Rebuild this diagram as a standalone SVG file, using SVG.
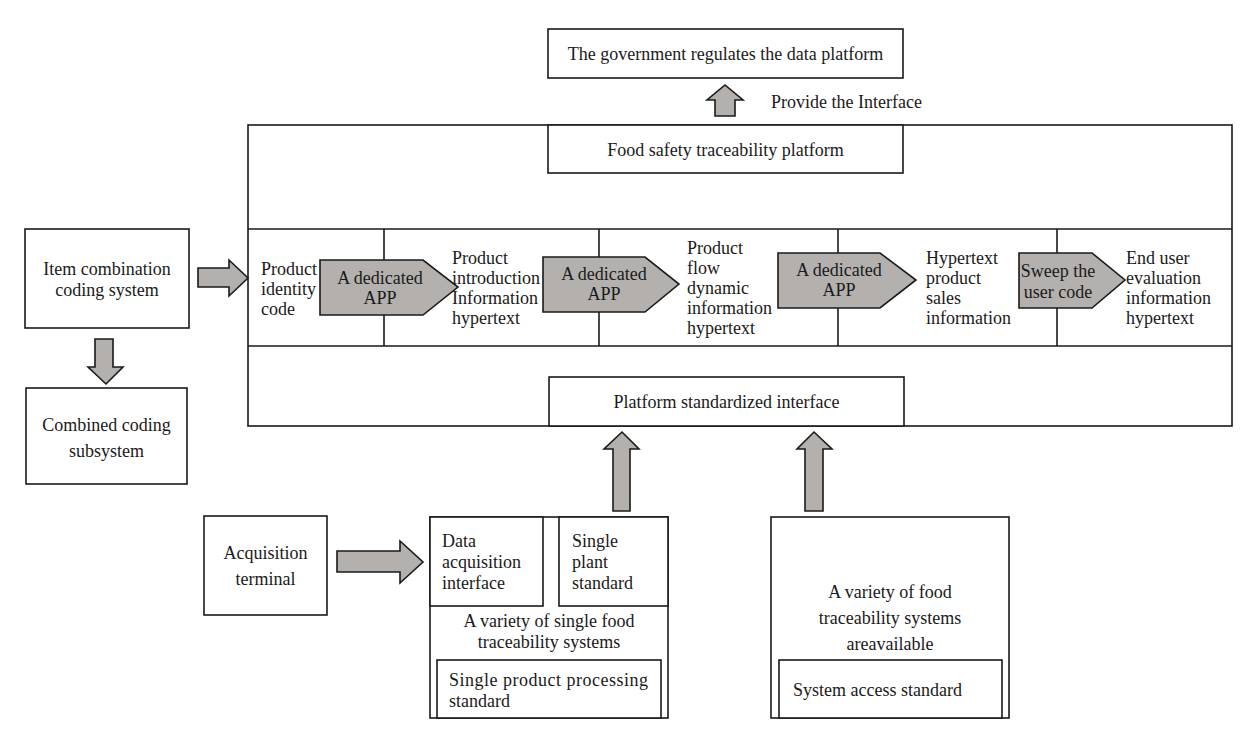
<svg xmlns="http://www.w3.org/2000/svg" width="1259" height="742" viewBox="0 0 1259 742">
<style>
  .box{fill:#fff;stroke:#1a1a1a;stroke-width:1.6}
  .line{stroke:#1a1a1a;stroke-width:1.6;fill:none}
  .arr{fill:#b3b0ae;stroke:#1a1a1a;stroke-width:1.6;stroke-linejoin:miter}
  text{font-family:"Liberation Serif","Times New Roman",serif;font-size:18px;fill:#1a1a1a}
  .c{text-anchor:middle}
</style>
<rect width="1259" height="742" fill="#fff"/>

<g id="government">
  <rect class="box" x="548" y="29" width="355" height="49"/>
  <text class="c" x="725.5" y="60">The government regulates the data platform</text>
</g>

<g id="platform">
  <rect class="box" x="248" y="125" width="984" height="301"/>
  <line class="line" x1="248" y1="229" x2="1232" y2="229"/>
  <line class="line" x1="248" y1="346" x2="1232" y2="346"/>
  <line class="line" x1="384" y1="229" x2="384" y2="346"/>
  <line class="line" x1="599" y1="229" x2="599" y2="346"/>
  <line class="line" x1="838" y1="229" x2="838" y2="346"/>
  <line class="line" x1="1057" y1="229" x2="1057" y2="346"/>
</g>

<g id="food-safety-platform">
  <rect class="box" x="548" y="125" width="355" height="48"/>
  <text class="c" x="725.5" y="156">Food safety traceability platform</text>
</g>

<g id="platform-interface">
  <rect class="box" x="549" y="377" width="355" height="49"/>
  <text class="c" x="726.5" y="408">Platform standardized interface</text>
</g>

<g id="product-identity">
  <text x="261" y="275">Product</text>
  <text x="261" y="295">identity</text>
  <text x="261" y="315">code</text>
</g>
<g id="product-intro">
  <text x="452" y="264">Product</text>
  <text x="452" y="284">introduction</text>
  <text x="452" y="304">Information</text>
  <text x="452" y="324">hypertext</text>
</g>
<g id="product-flow">
  <text x="687" y="254">Product</text>
  <text x="687" y="274">flow</text>
  <text x="687" y="294">dynamic</text>
  <text x="687" y="314">information</text>
  <text x="687" y="334">hypertext</text>
</g>
<g id="sales-info">
  <text x="926" y="264">Hypertext</text>
  <text x="926" y="284">product</text>
  <text x="926" y="304">sales</text>
  <text x="926" y="324">information</text>
</g>
<g id="end-user">
  <text x="1126" y="264">End user</text>
  <text x="1126" y="284">evaluation</text>
  <text x="1126" y="304">information</text>
  <text x="1126" y="324">hypertext</text>
</g>

<g id="app1">
  <path class="arr" d="M320,260 H423 L458,287 L423,315 H320 Z"/>
  <text class="c" x="380" y="284">A dedicated</text>
  <text class="c" x="380" y="304">APP</text>
</g>
<g id="app2">
  <path class="arr" d="M543,257 H645 L679,284 L645,312 H543 Z"/>
  <text class="c" x="604" y="280">A dedicated</text>
  <text class="c" x="604" y="300">APP</text>
</g>
<g id="app3">
  <path class="arr" d="M778,253 H880 L916,280 L880,308 H778 Z"/>
  <text class="c" x="839" y="276">A dedicated</text>
  <text class="c" x="839" y="296">APP</text>
</g>
<g id="sweep">
  <path class="arr" d="M1019,253 H1092 L1125,280 L1092,308 H1019 Z"/>
  <text class="c" x="1058" y="277">Sweep the</text>
  <text class="c" x="1058" y="298">user code</text>
</g>

<g id="item-combination">
  <rect class="box" x="25" y="229" width="164" height="99"/>
  <text class="c" x="107" y="275">Item combination</text>
  <text class="c" x="107" y="296">coding system</text>
</g>

<g id="combined-coding">
  <rect class="box" x="26" y="388" width="161" height="96"/>
  <text class="c" x="106.5" y="431">Combined coding</text>
  <text class="c" x="106.5" y="457">subsystem</text>
</g>

<g id="acquisition-terminal">
  <rect class="box" x="204" y="516" width="123" height="99"/>
  <text class="c" x="265.5" y="559">Acquisition</text>
  <text class="c" x="265.5" y="585">terminal</text>
</g>

<g id="single-food-systems">
  <rect class="box" x="430" y="517" width="238" height="201"/>
  <rect class="box" x="430" y="517" width="113" height="89"/>
  <rect class="box" x="559" y="517" width="109" height="89"/>
  <text x="442" y="547">Data</text>
  <text x="442" y="568">acquisition</text>
  <text x="442" y="589">interface</text>
  <text x="572" y="547">Single</text>
  <text x="572" y="568">plant</text>
  <text x="572" y="589">standard</text>
  <text class="c" x="549" y="627">A variety of single food</text>
  <text class="c" x="549" y="648">traceability systems</text>
  <rect class="box" x="437" y="660" width="224" height="58"/>
  <text x="449" y="686" textLength="199" lengthAdjust="spacing">Single product processing</text>
  <text x="449" y="707">standard</text>
</g>

<g id="food-systems-available">
  <rect class="box" x="771" y="517" width="238" height="201"/>
  <text class="c" x="890" y="598">A variety of food</text>
  <text class="c" x="890" y="624">traceability systems</text>
  <text class="c" x="890" y="650">areavailable</text>
  <rect class="box" x="779" y="660" width="223" height="58"/>
  <text x="793" y="696">System access standard</text>
</g>

<g id="connectors">
  <path class="arr" d="M715,116 V100 H707 L725,85 L743,100 H735 V116 Z"/>
  <text x="771" y="108">Provide the Interface</text>
  <path class="arr" d="M198,268 H229 V260 L248,278 L229,296 V287 H198 Z"/>
  <path class="arr" d="M95,339 H113 V367 H123 L106,384 L88,367 H95 Z"/>
  <path class="arr" d="M337,551 H400 V541 L423,562 L400,583 V572 H337 Z"/>
  <path class="arr" d="M613,511 V449 H604 L622,432 L639,449 H630 V511 Z"/>
  <path class="arr" d="M805,511 V449 H797 L814,432 L832,449 H823 V511 Z"/>
</g>
</svg>
